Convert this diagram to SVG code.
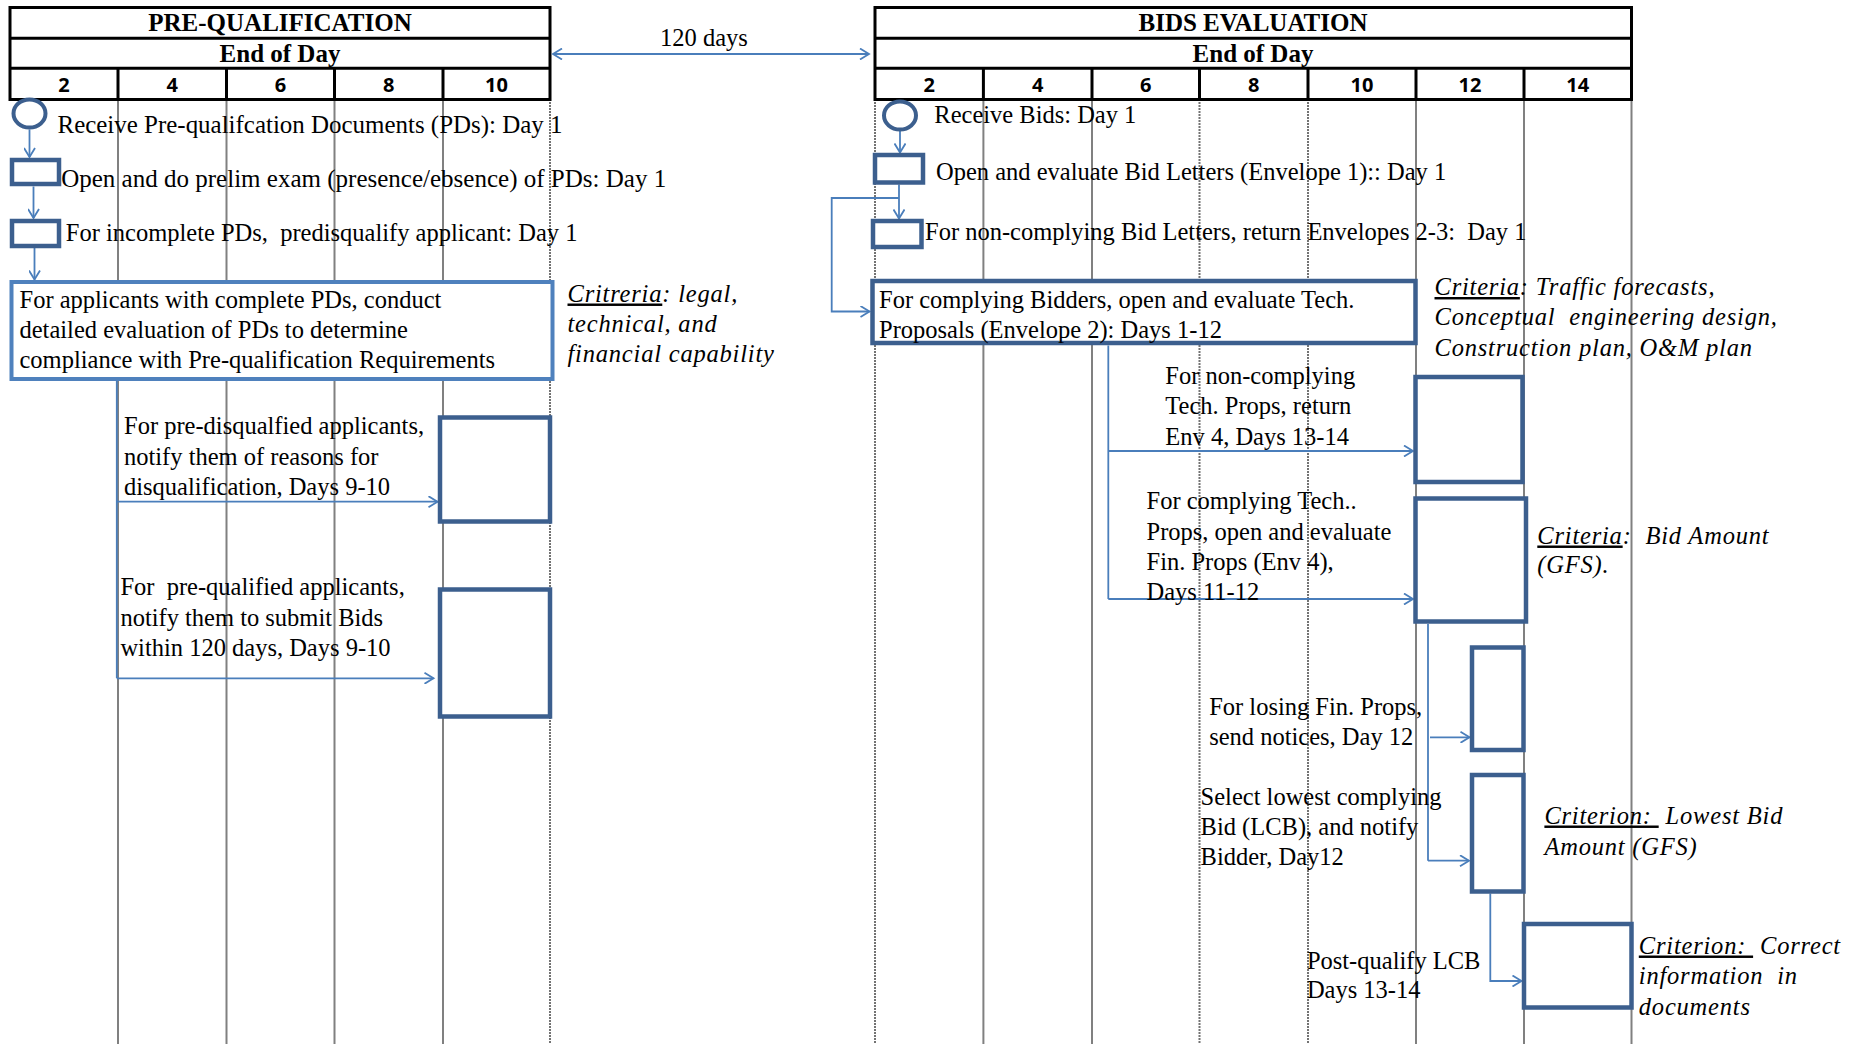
<svg xmlns="http://www.w3.org/2000/svg" width="1851" height="1044" viewBox="0 0 1851 1044">
<style>
.grid{stroke:#808080;stroke-width:2;fill:none}
.dash{stroke-dasharray:2 1;stroke:#737373}
.tbl{fill:none;stroke:#000;stroke-width:3}
.tl{stroke:#000;stroke-width:3}
.box{fill:#fff;stroke:#3c5f8e;stroke-width:4.5}
.boxl{fill:#fff;stroke:#4f81bd;stroke-width:4}
.conn{fill:none;stroke:#4a7ebb;stroke-width:1.8}
.t{font-family:"Liberation Serif","Times New Roman",serif;font-size:24.5px;fill:#000;white-space:pre}
.it{font-style:italic;letter-spacing:0.8px}
.hd{font-family:"Liberation Serif","Times New Roman",serif;font-weight:bold;font-size:25px;text-anchor:middle;fill:#000}
.num{font-family:"Open Sans","Liberation Sans",sans-serif;font-weight:bold;font-size:20px;text-anchor:middle;fill:#000}
.u{text-decoration:underline}
</style>
<defs>
<marker id="ah" markerWidth="12" markerHeight="12" refX="10" refY="6" orient="auto-start-reverse" markerUnits="userSpaceOnUse" viewBox="0 0 12 12">
<path d="M1,0.5 L10,6 L1,11.5" fill="none" stroke="#4a7ebb" stroke-width="1.8"/>
</marker>
</defs>
<rect width="1851" height="1044" fill="#fff"/>

<g id="grid">
<line class="grid" x1="118" y1="99" x2="118" y2="1044"/>
<line class="grid" x1="226.5" y1="99" x2="226.5" y2="1044"/>
<line class="grid" x1="334.5" y1="99" x2="334.5" y2="1044"/>
<line class="grid" x1="443" y1="99" x2="443" y2="1044"/>
<line class="grid dash" x1="550" y1="99" x2="550" y2="1044"/>
<line class="grid dash" x1="875" y1="99" x2="875" y2="1044"/>
<line class="grid" x1="983.4" y1="99" x2="983.4" y2="1044"/>
<line class="grid" x1="1092" y1="99" x2="1092" y2="1044"/>
<line class="grid dash" x1="1199.5" y1="99" x2="1199.5" y2="1044"/>
<line class="grid dash" x1="1308" y1="99" x2="1308" y2="1044"/>
<line class="grid" x1="1416" y1="99" x2="1416" y2="1044"/>
<line class="grid" x1="1524" y1="99" x2="1524" y2="1044"/>
<line class="grid" x1="1631.5" y1="99" x2="1631.5" y2="1044"/>
</g>

<g id="prequal-header">
<rect class="tbl" x="10" y="7.5" width="540" height="92"/>
<line class="tl" x1="10" y1="38.3" x2="550" y2="38.3"/>
<line class="tl" x1="10" y1="68.3" x2="550" y2="68.3"/>
<line class="tl" x1="118" y1="68.3" x2="118" y2="99.5"/>
<line class="tl" x1="226.5" y1="68.3" x2="226.5" y2="99.5"/>
<line class="tl" x1="334.5" y1="68.3" x2="334.5" y2="99.5"/>
<line class="tl" x1="443" y1="68.3" x2="443" y2="99.5"/>
<text class="hd" x="280" y="30.7">PRE-QUALIFICATION</text>
<text class="hd" x="280" y="61.5">End of Day</text>
<text class="num" x="64" y="92">2</text>
<text class="num" x="172.3" y="92">4</text>
<text class="num" x="280.5" y="92">6</text>
<text class="num" x="388.8" y="92">8</text>
<text class="num" x="496.5" y="92">10</text>
</g>

<g id="bids-header">
<rect class="tbl" x="875" y="7.5" width="756.5" height="92"/>
<line class="tl" x1="875" y1="38.3" x2="1631.5" y2="38.3"/>
<line class="tl" x1="875" y1="68.3" x2="1631.5" y2="68.3"/>
<line class="tl" x1="983.4" y1="68.3" x2="983.4" y2="99.5"/>
<line class="tl" x1="1092" y1="68.3" x2="1092" y2="99.5"/>
<line class="tl" x1="1199.5" y1="68.3" x2="1199.5" y2="99.5"/>
<line class="tl" x1="1308" y1="68.3" x2="1308" y2="99.5"/>
<line class="tl" x1="1416" y1="68.3" x2="1416" y2="99.5"/>
<line class="tl" x1="1524" y1="68.3" x2="1524" y2="99.5"/>
<text class="hd" x="1253" y="30.7">BIDS EVALUATION</text>
<text class="hd" x="1253" y="61.5">End of Day</text>
<text class="num" x="929.2" y="92">2</text>
<text class="num" x="1037.7" y="92">4</text>
<text class="num" x="1145.8" y="92">6</text>
<text class="num" x="1253.8" y="92">8</text>
<text class="num" x="1362" y="92">10</text>
<text class="num" x="1470" y="92">12</text>
<text class="num" x="1577.8" y="92">14</text>
</g>

<g id="connectors">
<line class="conn" x1="553" y1="54" x2="869" y2="54" marker-start="url(#ah)" marker-end="url(#ah)"/>
<line class="conn" x1="29.5" y1="129.5" x2="29.5" y2="157" marker-end="url(#ah)"/>
<line class="conn" x1="33.5" y1="186.5" x2="33.5" y2="218" marker-end="url(#ah)"/>
<line class="conn" x1="34.5" y1="248" x2="34.5" y2="279.5" marker-end="url(#ah)"/>
<line class="conn" x1="116.8" y1="381" x2="116.8" y2="678.3"/>
<line class="conn" x1="116.8" y1="501.7" x2="437.5" y2="501.7" marker-end="url(#ah)"/>
<line class="conn" x1="116.8" y1="678.3" x2="433.5" y2="678.3" marker-end="url(#ah)"/>
<line class="conn" x1="900" y1="130.5" x2="900" y2="152.5" marker-end="url(#ah)"/>
<line class="conn" x1="899" y1="184.5" x2="899" y2="218.5" marker-end="url(#ah)"/>
<polyline class="conn" points="899,198 831.7,198 831.7,311.5 869.5,311.5" marker-end="url(#ah)"/>
<line class="conn" x1="1108.3" y1="345.5" x2="1108.3" y2="599"/>
<line class="conn" x1="1108.3" y1="451" x2="1413" y2="451" marker-end="url(#ah)"/>
<line class="conn" x1="1108.3" y1="599" x2="1413" y2="599" marker-end="url(#ah)"/>
<line class="conn" x1="1428" y1="624" x2="1428" y2="860.7"/>
<line class="conn" x1="1430" y1="737.3" x2="1469.5" y2="737.3" marker-end="url(#ah)"/>
<line class="conn" x1="1428" y1="860.7" x2="1469" y2="860.7" marker-end="url(#ah)"/>
<polyline class="conn" points="1490.3,893.5 1490.3,981 1521.5,981" marker-end="url(#ah)"/>
</g>

<g id="label-120">
<text class="t" x="704" y="45.5" text-anchor="middle">120 days</text>
</g>

<g id="pq-receive">
<ellipse cx="29.5" cy="113.5" rx="16" ry="14" fill="#fff" stroke="#3c5f8e" stroke-width="4"/>
<text class="t" x="57.5" y="132.5" textLength="505" lengthAdjust="spacingAndGlyphs">Receive Pre-qualifcation Documents (PDs): Day 1</text>
</g>
<g id="pq-open">
<rect class="box" x="12" y="160" width="47" height="24" stroke-width="4"/>
<text class="t" x="61.2" y="186.5" textLength="605" lengthAdjust="spacingAndGlyphs">Open and do prelim exam (presence/ebsence) of PDs: Day 1</text>
</g>
<g id="pq-incomplete">
<rect class="box" x="12" y="221" width="47" height="25" stroke-width="4"/>
<text class="t" x="65.8" y="240.5">For incomplete PDs,  predisqualify applicant: Day 1</text>
</g>
<g id="pq-evaluate">
<rect class="boxl" x="11.5" y="282" width="541" height="97"/>
<text class="t" x="19.5" y="308">For applicants with complete PDs, conduct</text>
<text class="t" x="19.5" y="338">detailed evaluation of PDs to determine</text>
<text class="t" x="19.5" y="368">compliance with Pre-qualification Requirements</text>
</g>
<g id="pq-criteria">
<text class="t it" x="567.5" y="301.5"><tspan class="u">Critreria</tspan>: legal,</text>
<text class="t it" x="567.5" y="331.5">technical, and</text>
<text class="t it" x="567.5" y="361.5">financial capability</text>
</g>
<g id="pq-disqualified">
<rect class="box" x="440" y="417.5" width="110" height="104"/>
<text class="t" x="124" y="434">For pre-disqualfied applicants,</text>
<text class="t" x="124" y="464.5">notify them of reasons for</text>
<text class="t" x="124" y="495">disqualification, Days 9-10</text>
</g>
<g id="pq-qualified">
<rect class="box" x="440" y="589.5" width="110" height="127"/>
<text class="t" x="120.4" y="595">For  pre-qualified applicants,</text>
<text class="t" x="120.4" y="625.5">notify them to submit Bids</text>
<text class="t" x="120.4" y="656">within 120 days, Days 9-10</text>
</g>

<g id="be-receive">
<ellipse cx="900" cy="115.5" rx="16" ry="14" fill="#fff" stroke="#3c5f8e" stroke-width="4"/>
<text class="t" x="934.3" y="123">Receive Bids: Day 1</text>
</g>
<g id="be-open">
<rect class="box" x="875" y="155" width="48" height="27.5" stroke-width="4"/>
<text class="t" x="936" y="180">Open and evaluate Bid Letters (Envelope 1):: Day 1</text>
</g>
<g id="be-noncomplying">
<rect class="box" x="873" y="221" width="48.5" height="26" stroke-width="4"/>
<text class="t" x="925" y="239.5">For non-complying Bid Letters, return Envelopes 2-3:  Day 1</text>
</g>
<g id="be-tech">
<rect class="box" x="872.5" y="281" width="543" height="62"/>
<text class="t" x="879" y="308">For complying Bidders, open and evaluate Tech.</text>
<text class="t" x="879" y="338">Proposals (Envelope 2): Days 1-12</text>
</g>
<g id="be-tech-criteria">
<text class="t it" x="1434.5" y="295"><tspan class="u">Criteria</tspan>: Traffic forecasts,</text>
<text class="t it" x="1434.5" y="325">Conceptual  engineering design,</text>
<text class="t it" x="1434.5" y="356">Construction plan, O&amp;M plan</text>
</g>
<g id="be-return">
<rect class="box" x="1415.5" y="377" width="107" height="105"/>
<text class="t" x="1165.3" y="383.5">For non-complying</text>
<text class="t" x="1165.3" y="414">Tech. Props, return</text>
<text class="t" x="1165.3" y="444.5">Env 4, Days 13-14</text>
</g>
<g id="be-fin">
<rect class="box" x="1415.5" y="498.5" width="110.5" height="123"/>
<text class="t" x="1146.5" y="508.5">For complying Tech..</text>
<text class="t" x="1146.5" y="539.5">Props, open and evaluate</text>
<text class="t" x="1146.5" y="569.5">Fin. Props (Env 4),</text>
<text class="t" x="1146.5" y="600">Days 11-12</text>
</g>
<g id="be-fin-criteria">
<text class="t it" x="1537.3" y="543.5"><tspan class="u">Criteria</tspan>:  Bid Amount</text>
<text class="t it" x="1537.3" y="572.5">(GFS).</text>
</g>
<g id="be-losing">
<rect class="box" x="1472" y="647.5" width="51.5" height="102.5"/>
<text class="t" x="1209.2" y="715">For losing Fin. Props,</text>
<text class="t" x="1209.2" y="744.5">send notices, Day 12</text>
</g>
<g id="be-select">
<rect class="box" x="1472" y="775" width="51.5" height="116.5"/>
<text class="t" x="1200.6" y="804.5">Select lowest complying</text>
<text class="t" x="1200.6" y="834.5">Bid (LCB), and notify</text>
<text class="t" x="1200.6" y="865">Bidder, Day12</text>
</g>
<g id="be-select-criterion">
<text class="t it" x="1544.4" y="823.5"><tspan class="u">Criterion: </tspan> Lowest Bid</text>
<text class="t it" x="1544.4" y="855">Amount (GFS)</text>
</g>
<g id="be-postqualify">
<rect class="box" x="1524" y="924" width="107.5" height="83.5"/>
<text class="t" x="1306.9" y="968.5">Post-qualify LCB</text>
<text class="t" x="1306.9" y="997.5">Days 13-14</text>
</g>
<g id="be-post-criterion">
<text class="t it" x="1638.8" y="953.5"><tspan class="u">Criterion: </tspan> Correct</text>
<text class="t it" x="1638.8" y="983.5">information  in</text>
<text class="t it" x="1638.8" y="1014.5">documents</text>
</g>
</svg>
